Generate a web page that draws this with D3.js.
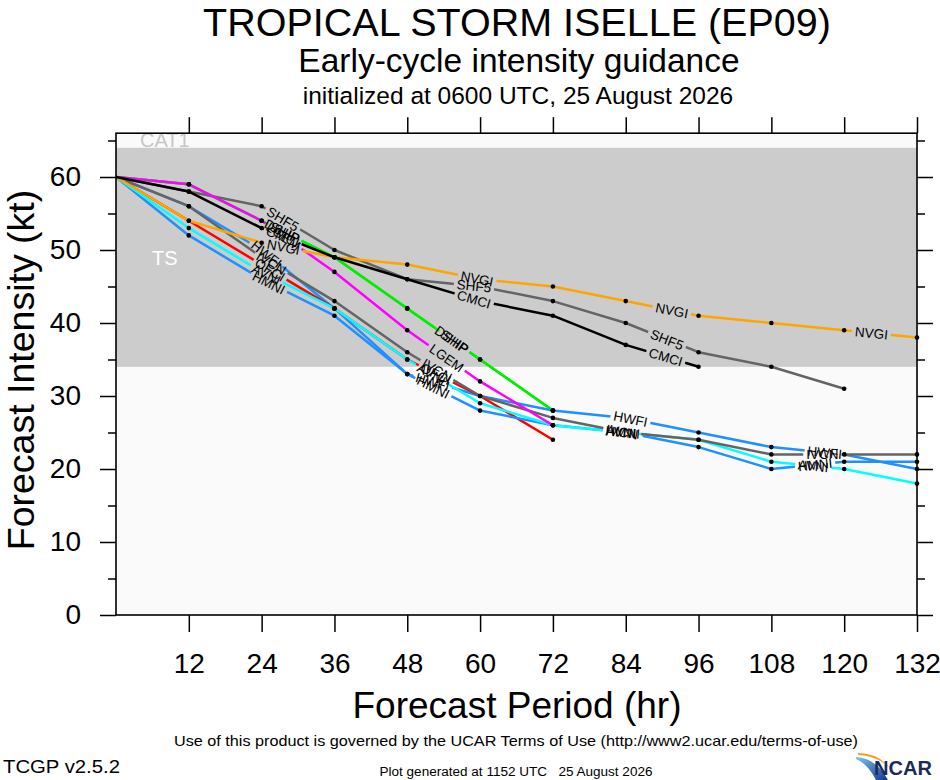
<html>
<head><meta charset="utf-8"></head>
<body style="margin:0;background:#fff">
<svg id="chart" width="940" height="780"></svg>
<script src="https://cdn.jsdelivr.net/npm/d3@7"></script>
<script>
// forecast hours and axis ticks
let hours = [0, 12, 24, 36, 48, 60, 72, 84, 96, 108, 120, 132];
let xTicks = [12, 24, 36, 48, 60, 72, 84, 96, 108, 120, 132];
let yTicks = [0, 10, 20, 30, 40, 50, 60];
let yMinor = [5, 15, 25, 35, 45, 55, 65];

// intensity (kt) per model, null = no forecast
let ship = [60, 59, 54, 49, 42, 35, 28, null, null, null, null, null];
let dshp = [60, 59, 54, 49, 42, 35, 28, null, null, null, null, null];
let shf5 = [60, 58, 56, 50, 46, 45, 43, 40, 36, 34, 31, null];
let hwfi = [60, 56, 50, 42, 33, 30, 28, 27, 25, 23, 22, 20];
let ofci = [60, 54, 48, 42, 35, 30, 24, null, null, null, null, null];
let hmni = [60, 52, 46, 41, 33, 28, 26, 25, 23, 20, 21, 21];
let avni = [60, 53, 47, 42, 35, 29, 26, 25, 24, 21, 20, 18];
let ivcn = [60, 56, 49, 43, 36, 30, 27, 25, 24, 22, 22, 22];
let lgem = [60, 59, 54, 47, 39, 32, 26, null, null, null, null, null];
let nvgi = [60, 54, 51, 49, 48, 46, 45, 43, 41, 40, 39, 38];
let cmci = [60, 58, 53, 49, 46, 43, 41, 37, 34, null, null, null];

// drawing order, bottom first
let models = [
  {name: "SHIP", values: ship, color: "#00ee00", labels: [27.8, 55.8]},
  {name: "DSHP", values: dshp, color: "#00ee00", labels: [27.4, 55.3]},
  {name: "SHF5", values: shf5, color: "#646464", labels: [27.5, 59, 90.8]},
  {name: "HWFI", values: hwfi, color: "#1e90ff", labels: [24.8, 52.2, 84.8, 116.8]},
  {name: "OFCI", values: ofci, color: "#ff0000", labels: [25.4, 52.7]},
  {name: "HMNI", values: hmni, color: "#1e90ff", labels: [25.2, 52.3, 83.5, 115.2]},
  {name: "AVNI", values: avni, color: "#00ffff", labels: [24.8, 52.0, 83.2, 114.9]},
  {name: "IVCN", values: ivcn, color: "#646464", labels: [25.6, 52.9, 83.4, 116.4]},
  {name: "LGEM", values: lgem, color: "#ff00ff", labels: [27.6, 54.5]},
  {name: "NVGI", values: nvgi, color: "#ffa500", labels: [27.6, 59.5, 91.6, 124.5]},
  {name: "CMCI", values: cmci, color: "#000000", labels: [27.5, 59, 90.6]}
];

let svg = d3.select("#chart");
let font = "'Liberation Sans', Arial, Helvetica, sans-serif";
let narrow = "'Liberation Sans Narrow', 'Arial Narrow', 'Liberation Sans', sans-serif";

let x = d3.scaleLinear().domain([0, 132]).range([116, 917]);
let y = d3.scaleLinear().domain([0, 66]).range([615, 133.2]);

// titles
svg.append("text").attr("x", 517).attr("y", 36).attr("text-anchor", "middle")
  .style("font", "39.5px " + font).text("TROPICAL STORM ISELLE (EP09)");
svg.append("text").attr("x", 519).attr("y", 72).attr("text-anchor", "middle")
  .style("font", "33.5px " + font).text("Early-cycle intensity guidance");
svg.append("text").attr("x", 518).attr("y", 104).attr("text-anchor", "middle")
  .style("font", "24.5px " + font).text("initialized at 0600 UTC, 25 August 2026");

// plot background and intensity bands
svg.append("rect").attr("x", x(0)).attr("y", y(66))
  .attr("width", x(132) - x(0)).attr("height", y(0) - y(66)).attr("fill", "#fafafa");
svg.append("text").attr("x", 140).attr("y", 147).attr("fill", "#c6c6c6")
  .style("font", "20px " + font).text("CAT1");
svg.append("rect").attr("x", x(0)).attr("y", y(64))
  .attr("width", x(132) - x(0)).attr("height", y(34) - y(64)).attr("fill", "#cccccc");
svg.append("text").attr("x", 152).attr("y", 265).attr("fill", "#ffffff")
  .style("font", "20px " + font).text("TS");

let defs = svg.append("defs");
let lineLayer = svg.append("g");
let dotLayer = svg.append("g");
let labelLayer = svg.append("g");

function placeAt(vals, h) {
  let i = Math.min(Math.floor(h / 12), vals.length - 2);
  let t = (h - hours[i]) / 12;
  let v = vals[i] + t * (vals[i + 1] - vals[i]);
  let ang = Math.atan2(y(vals[i + 1]) - y(vals[i]), x(hours[i + 1]) - x(hours[i])) * 180 / Math.PI;
  return {px: x(h), py: y(v), ang: ang};
}

let line = d3.line()
  .defined(d => d.v != null)
  .x(d => x(d.h))
  .y(d => y(d.v));

models.forEach((m, k) => {
  let pts = hours.map((h, i) => ({h: h, v: m.values[i]}));
  let boxes = [];
  m.labels.forEach(h => {
    let p = placeAt(m.values, h);
    let t = labelLayer.append("text")
      .attr("transform", `translate(${p.px},${p.py}) rotate(${p.ang})`)
      .attr("text-anchor", "middle").attr("dy", "0.36em")
      .style("font", "13.5px " + font).attr("fill", "#000").text(m.name);
    boxes.push({p: p, w: t.node().getComputedTextLength() + 6});
  });

  let mask = defs.append("mask").attr("id", "mask" + k)
    .attr("maskUnits", "userSpaceOnUse")
    .attr("x", 0).attr("y", 0).attr("width", 940).attr("height", 780);
  mask.append("rect").attr("width", 940).attr("height", 780).attr("fill", "#fff");
  boxes.forEach(b => {
    mask.append("rect")
      .attr("transform", `translate(${b.p.px},${b.p.py}) rotate(${b.p.ang})`)
      .attr("x", -b.w / 2).attr("y", -6.5).attr("width", b.w).attr("height", 13)
      .attr("fill", "#000");
  });

  lineLayer.append("path").datum(pts)
    .attr("d", line).attr("fill", "none")
    .attr("stroke", m.color).attr("stroke-width", 2.5)
    .attr("stroke-linejoin", "round")
    .attr("mask", "url(#mask" + k + ")");

  dotLayer.append("g").attr("mask", "url(#mask" + k + ")")
    .selectAll("circle").data(pts.filter(d => d.v != null && d.h > 0))
    .join("circle").attr("cx", d => x(d.h)).attr("cy", d => y(d.v))
    .attr("r", 2.3).attr("fill", "#000");
});

// axes
function styleAxis(g) {
  g.select(".domain").remove();
  g.selectAll(".tick line").attr("stroke", "#000").attr("stroke-width", 1.5);
  g.selectAll(".tick text").style("font", "28px " + font).attr("fill", "#000");
}
svg.append("g").attr("transform", `translate(${x(0)},0)`)
  .call(d3.axisLeft(y).tickValues(yTicks).tickSize(16).tickPadding(19).tickFormat(d3.format("d")))
  .call(styleAxis);
svg.append("g").attr("transform", `translate(${x(0)},0)`)
  .call(d3.axisLeft(y).tickValues(yMinor).tickSize(8).tickFormat(""))
  .call(styleAxis);
svg.append("g").attr("transform", `translate(${x(132)},0)`)
  .call(d3.axisRight(y).tickValues(yTicks).tickSize(16).tickFormat(""))
  .call(styleAxis);
svg.append("g").attr("transform", `translate(${x(132)},0)`)
  .call(d3.axisRight(y).tickValues(yMinor).tickSize(8).tickFormat(""))
  .call(styleAxis);
svg.append("g").attr("transform", `translate(0,${y(0)})`)
  .call(d3.axisBottom(x).tickValues(xTicks).tickSize(17).tickPadding(21).tickFormat(d3.format("d")))
  .call(styleAxis);
svg.append("g").attr("transform", `translate(0,${y(66)})`)
  .call(d3.axisTop(x).tickValues(xTicks).tickSize(16).tickFormat(""))
  .call(styleAxis);

svg.append("rect").attr("x", x(0)).attr("y", y(66))
  .attr("width", x(132) - x(0)).attr("height", y(0) - y(66))
  .attr("fill", "none").attr("stroke", "#000").attr("stroke-width", 1.6);

// axis titles
svg.append("text").attr("transform", "translate(34,370) rotate(-90)")
  .attr("text-anchor", "middle").style("font", "37.5px " + font).text("Forecast Intensity (kt)");
svg.append("text").attr("x", 517).attr("y", 718).attr("text-anchor", "middle")
  .style("font", "37px " + font).text("Forecast Period (hr)");

// footer
svg.append("text").attr("x", 516).attr("y", 746).attr("text-anchor", "middle")
  .attr("textLength", 684).attr("lengthAdjust", "spacingAndGlyphs")
  .style("font", "15px " + narrow)
  .text("Use of this product is governed by the UCAR Terms of Use (http://www2.ucar.edu/terms-of-use)");
svg.append("text").attr("x", 3).attr("y", 773)
  .attr("textLength", 117).attr("lengthAdjust", "spacingAndGlyphs")
  .style("font", "19px " + narrow).text("TCGP v2.5.2");
svg.append("text").attr("x", 516).attr("y", 776).attr("text-anchor", "middle")
  .attr("textLength", 273).attr("lengthAdjust", "spacingAndGlyphs")
  .style("font", "12px " + narrow).style("white-space", "pre")
  .text("Plot generated at 1152 UTC   25 August 2026");

// NCAR logo
let grad = defs.append("linearGradient").attr("id", "swoosh")
  .attr("x1", "0").attr("y1", "0").attr("x2", "1").attr("y2", "1");
grad.append("stop").attr("offset", "0").attr("stop-color", "#7fc4f0");
grad.append("stop").attr("offset", "1").attr("stop-color", "#123a8c");
svg.append("path").attr("d", "M856,757 Q876,758 888,780 L876,780 Q868,764 856,759 Z")
  .attr("fill", "url(#swoosh)");
svg.append("path").attr("d", "M858,753 Q878,753 890,768 Q878,756 858,755 Z")
  .attr("fill", "#f39c2a");
svg.append("text").attr("x", 874).attr("y", 775)
  .attr("textLength", 58).attr("lengthAdjust", "spacingAndGlyphs")
  .style("font", "bold 20px " + narrow).attr("fill", "#1b2a5c").text("NCAR");
</script>
</body>
</html>
